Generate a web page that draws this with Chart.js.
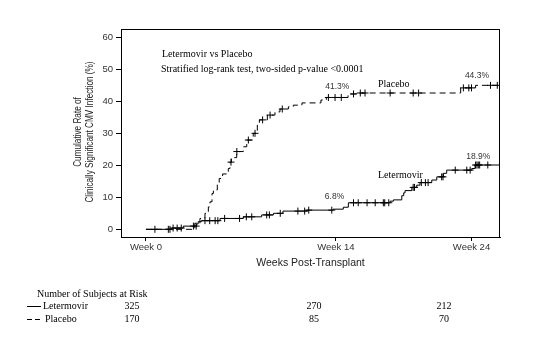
<!DOCTYPE html>
<html><head><meta charset="utf-8">
<script src="https://cdn.jsdelivr.net/npm/chart.js@4/dist/chart.umd.min.js"></script>
<style>html,body{margin:0;padding:0;background:#fff}canvas{display:block}</style>
</head><body>
<canvas id="c" width="555" height="358"></canvas>
<script>
// ---- data ----
const xTickWeeks = [0, 14, 24];
const yTickValues = [0, 10, 20, 30, 40, 50, 60];

const placeboWeeks = [0, 3.6, 3.98, 4.35, 4.6, 4.72, 4.87, 4.97, 5.26, 5.4, 5.65, 6.07, 6.19, 6.3, 6.69, 7.18, 7.43, 7.91, 8.21, 8.36, 8.95, 9.51, 9.88, 10.5, 10.86, 11.5, 12.9, 13.3, 14.9, 15.5, 23.2, 24.3, 26.1];
const placeboRate  = [0, 1.9, 3.4, 5.0, 7.0, 8.6, 11.2, 12.3, 14.4, 15.9, 17.3, 19.0, 21.0, 22.4, 24.3, 25.8, 27.9, 30.0, 32.6, 34.2, 35.7, 36.7, 37.6, 38.3, 38.8, 39.5, 40.4, 41.2, 42.3, 42.6, 44.2, 45.0, 45.0];
const placeboCensorWeeks = [6.27, 6.7, 7.55, 8.04, 8.6, 9.15, 10.05, 13.45, 13.94, 14.4, 15.3, 15.8, 16.15, 18.0, 19.7, 20.1, 23.4, 23.8, 24.0, 25.4, 25.9];

const letermovirWeeks = [0, 1.9, 2.75, 3.74, 3.85, 4.1, 5.46, 7.18, 8.53, 9.4, 10.1, 11.85, 13.8, 14.55, 14.92, 18.0, 18.24, 18.86, 19.0, 19.1, 19.6, 19.96, 20.2, 21.07, 21.44, 21.93, 22.17, 24.02, 24.26, 26.1];
const letermovirRate  = [0, 0.4, 1.0, 1.7, 2.4, 2.7, 3.4, 3.9, 4.5, 5.0, 5.7, 6.0, 6.3, 6.9, 8.3, 8.8, 9.2, 10.5, 11.4, 12.1, 13.1, 13.8, 14.6, 15.4, 16.4, 17.5, 18.5, 19.0, 20.1, 20.1];
const letermovirCensorWeeks = [0.66, 1.65, 1.77, 2.0, 2.3, 2.6, 3.5, 3.7, 4.35, 4.7, 5.1, 5.3, 5.8, 6.9, 7.4, 7.8, 8.9, 9.1, 9.9, 11.2, 11.7, 12.0, 13.7, 15.3, 15.65, 16.3, 16.9, 17.5, 17.6, 17.9, 19.7, 19.8, 20.3, 20.6, 20.8, 21.8, 21.9, 22.8, 23.65, 23.9, 24.3, 24.4, 24.5, 24.6, 25.2];

const groupNames = ['Letermovir', 'Placebo'];
const letermovirAtRisk = [325, 270, 212];
const placeboAtRisk = [170, 85, 70];
const percentLabels = ['41.3%', '44.3%', '6.8%', '18.9%'];
const yTitleLines = ['Cumulative Rate of', 'Clinically Significant CMV Infection (%)'];
const xTitle = 'Weeks Post-Transplant';
const testLines = ['Letermovir vs Placebo', 'Stratified log-rank test, two-sided p-value <0.0001'];
const riskTitle = 'Number of Subjects at Risk';

// ---- helpers ----
function stepAt(ts, ys, t) { let v = ys[0]; for (let i = 0; i < ts.length; i++) if (ts[i] <= t) v = ys[i]; return v; }
const toPts = (ts, ys) => ts.map((t, i) => ({x: t, y: ys[i]}));
const censorPts = (cs, ts, ys) => cs.map(t => ({x: t, y: stepAt(ts, ys, t)}));

const SANS = '"Liberation Sans", Arial, sans-serif';
const SERIF = '"Liberation Serif", "Times New Roman", serif';

const decor = {
  id: 'decor',
  beforeDraw(chart) {
    const c = chart.ctx; c.save(); c.fillStyle = '#fff'; c.fillRect(0, 0, chart.width, chart.height); c.restore();
  },
  afterDraw(chart) {
    const c = chart.ctx, a = chart.chartArea, xs = chart.scales.x, ys = chart.scales.y;
    c.save();
    c.strokeStyle = '#000'; c.lineWidth = 1; c.setLineDash([]);
    c.strokeRect(Math.round(a.left) + 0.5, Math.round(a.top) + 0.5, Math.round(a.right - a.left) - 1, Math.round(a.bottom - a.top));
    // y title
    c.fillStyle = '#222'; c.font = '10.5px ' + SANS; c.textAlign = 'center'; c.textBaseline = 'middle';
    const cy = (a.top + a.bottom) / 2 - 1;
    [[78, yTitleLines[0]], [90, yTitleLines[1]]].forEach(([x, t]) => {
      c.save(); c.translate(x, cy); c.rotate(-Math.PI / 2); c.scale(0.78, 1); c.fillText(t, 0, 0); c.restore();
    });
    // x title
    c.font = '10.5px ' + SANS; c.fillText(xTitle, (a.left + a.right) / 2, 263);
    // test text
    c.fillStyle = '#000'; c.font = '10px ' + SERIF; c.textAlign = 'left';
    c.fillText(testLines[0], a.left + 41, 54);
    c.fillText(testLines[1], a.left + 40, 69);
    c.fillText(groupNames[1], xs.getPixelForValue(17.1), ys.getPixelForValue(45.3));
    c.fillText(groupNames[0], xs.getPixelForValue(17.1), ys.getPixelForValue(17.0));
    // percent labels
    c.fillStyle = '#333'; c.font = '8.5px ' + SANS; c.textAlign = 'center';
    c.fillText(percentLabels[0], xs.getPixelForValue(14.1), ys.getPixelForValue(44.6));
    c.fillText(percentLabels[1], xs.getPixelForValue(24.4), ys.getPixelForValue(47.9));
    c.fillText(percentLabels[2], xs.getPixelForValue(13.9), ys.getPixelForValue(10.1));
    c.fillText(percentLabels[3], xs.getPixelForValue(24.5), ys.getPixelForValue(22.7));
    // risk table
    c.fillStyle = '#000'; c.font = '10px ' + SERIF; c.textAlign = 'left';
    c.fillText(riskTitle, 37, 294);
    c.fillText(groupNames[0], 43, 306);
    c.fillText(groupNames[1], 45, 319);
    c.beginPath(); c.moveTo(27, 306.5); c.lineTo(41, 306.5); c.stroke();
    c.setLineDash([5, 3]); c.beginPath(); c.moveTo(27, 319.5); c.lineTo(42, 319.5); c.stroke(); c.setLineDash([]);
    c.textAlign = 'center';
    const cols = [132, 314, 444];
    letermovirAtRisk.forEach((v, i) => c.fillText(String(v), cols[i], 306));
    placeboAtRisk.forEach((v, i) => c.fillText(String(v), cols[i], 319));
    c.restore();
  }
};

new Chart(document.getElementById('c'), {
  type: 'line',
  data: {
    datasets: [
      {label: groupNames[0], data: toPts(letermovirWeeks, letermovirRate), stepped: true, borderColor: '#000', borderWidth: 1, pointRadius: 0, fill: false},
      {label: groupNames[1], data: toPts(placeboWeeks, placeboRate), stepped: true, borderColor: '#000', borderWidth: 1, borderDash: [6, 4], pointRadius: 0, fill: false},
      {label: 'c1', data: censorPts(letermovirCensorWeeks, letermovirWeeks, letermovirRate), showLine: false, pointStyle: 'cross', pointRadius: 3.5, borderColor: '#000', borderWidth: 1},
      {label: 'c2', data: censorPts(placeboCensorWeeks, placeboWeeks, placeboRate), showLine: false, pointStyle: 'cross', pointRadius: 3.5, borderColor: '#000', borderWidth: 1}
    ]
  },
  options: {
    responsive: false, animation: false, devicePixelRatio: 1,
    layout: {padding: {top: 29, right: 55, left: 0, bottom: 0}},
    plugins: {legend: {display: false}, tooltip: {enabled: false}},
    elements: {point: {hoverRadius: 3.5}},
    scales: {
      x: {
        type: 'linear', min: -1.84, max: 26.1,
        afterFit(s) { s.height = 121; },
        afterBuildTicks(s) { s.ticks = xTickWeeks.map(v => ({value: v})); },
        ticks: {callback: v => 'Week ' + v, font: {family: SANS, size: 9.5}, color: '#333', padding: 1, maxRotation: 0, autoSkip: false},
        grid: {drawOnChartArea: false, drawTicks: true, tickLength: 4, color: '#000'},
        border: {display: true, color: '#000', width: 1}
      },
      y: {
        min: -2.4, max: 62.6,
        afterFit(s) { s.width = 121; },
        afterBuildTicks(s) { s.ticks = yTickValues.map(v => ({value: v})); },
        ticks: {font: {family: SANS, size: 9.5}, color: '#333', padding: 3},
        grid: {drawOnChartArea: false, drawTicks: true, tickLength: 5, color: '#000'},
        border: {display: true, color: '#000', width: 1}
      }
    }
  },
  plugins: [decor]
});
</script>
</body></html>
